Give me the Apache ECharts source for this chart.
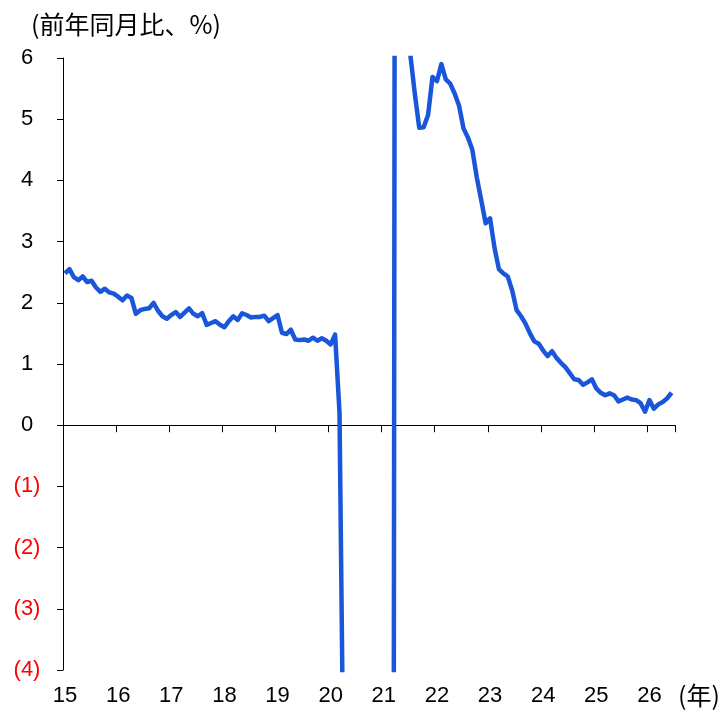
<!DOCTYPE html>
<html>
<head>
<meta charset="utf-8">
<script src="https://cdn.jsdelivr.net/npm/echarts@6/dist/echarts.min.js"></script>
<style>
    html, body {margin: 0; padding: 0; background: #fff;}
    #chart {width: 727px; height: 711px;}
</style>
</head>
<body>
<div id="chart"></div>
<script>
//月次カテゴリ(2015年1月〜)
let years = ['15', '16', '17', '18', '19', '20', '21', '22', '23', '24', '25', '26'];
let months = [];
years.forEach(function (y) {
    for (let m = 1; m <= 12; m++) {
        months.push(y + '-' + (m < 10 ? '0' + m : m));
    }
});

//前年同月比(%)
let v2015 = [2.48, 2.55, 2.42, 2.37, 2.43, 2.34, 2.36, 2.25, 2.18, 2.23, 2.17, 2.15];
let v2016 = [2.10, 2.04, 2.12, 2.08, 1.82, 1.88, 1.90, 1.91, 2.00, 1.87, 1.78, 1.74];
let v2017 = [1.80, 1.85, 1.77, 1.84, 1.91, 1.82, 1.78, 1.83, 1.64, 1.67, 1.70, 1.64];
let v2018 = [1.60, 1.70, 1.78, 1.72, 1.83, 1.80, 1.76, 1.77, 1.77, 1.79, 1.70, 1.75];
let v2019 = [1.80, 1.51, 1.49, 1.56, 1.40, 1.39, 1.40, 1.38, 1.43, 1.38, 1.42, 1.38];
let v2020 = [1.32, 1.48, 0.20, -6.5, -25, -20, -16, -14, -13, -12, -12, -13];
let v2021 = [-14, -15, -20, 40, 20, 11, 6.05, 5.42, 4.86, 4.87, 5.07, 5.69];
let v2022 = [5.62, 5.90, 5.65, 5.58, 5.42, 5.22, 4.85, 4.70, 4.50, 4.05, 3.68, 3.30];
let v2023 = [3.38, 2.90, 2.55, 2.48, 2.43, 2.20, 1.88, 1.78, 1.66, 1.50, 1.37, 1.33];
let v2024 = [1.22, 1.13, 1.21, 1.10, 1.02, 0.95, 0.85, 0.75, 0.74, 0.66, 0.70, 0.75];
let v2025 = [0.60, 0.53, 0.49, 0.52, 0.49, 0.39, 0.42, 0.45, 0.42, 0.41, 0.36, 0.22];
let v2026 = [0.41, 0.27, 0.34, 0.38, 0.44, 0.53];

let values = [].concat(v2015, v2016, v2017, v2018, v2019, v2020, v2021, v2022, v2023, v2024, v2025, v2026);
let cats = months.slice(0, values.length);

let yTicks = [-4, -3, -2, -1, 0, 1, 2, 3, 4, 5, 6];

let fontNum = 'Liberation Sans, Arial, sans-serif';
let fontJp = '"Noto Sans CJK JP", sans-serif';

let chart = echarts.init(document.getElementById('chart'), null, {renderer: 'canvas'});

let option = {
    animation: false,
    backgroundColor: '#fff',
    grid: [
        //軸用
        {left: 63, right: 52, top: 58, bottom: 41},
        //データ用
        {left: 65, right: 55.4, top: 58, bottom: 41}
    ],
    xAxis: [
        {
            gridIndex: 0,
            type: 'value',
            min: 0,
            max: 138.3,
            interval: 12,
            axisLine: {show: true, onZero: true, lineStyle: {color: '#000', width: 1}},
            axisTick: {show: true, length: 7, lineStyle: {color: '#000'}},
            axisLabel: {show: false},
            splitLine: {show: false}
        },
        {
            gridIndex: 1,
            type: 'category',
            data: cats,
            boundaryGap: false,
            axisLine: {show: false, onZero: false},
            axisTick: {show: false},
            axisLabel: {
                interval: function (i) { return i % 12 === 0; },
                formatter: function (v) { return v.split('-')[0]; },
                margin: 15,
                color: '#000',
                fontSize: 22,
                fontFamily: fontNum
            },
            splitLine: {show: false}
        }
    ],
    yAxis: [
        {
            gridIndex: 0,
            type: 'value',
            min: yTicks[0],
            max: yTicks[yTicks.length - 1],
            interval: 1,
            axisLine: {show: true, lineStyle: {color: '#000', width: 1}},
            axisTick: {show: true, length: 6, lineStyle: {color: '#000'}},
            axisLabel: {
                margin: 36,
                align: 'center',
                fontSize: 22,
                fontFamily: fontNum,
                formatter: function (v) { return v < 0 ? '(' + (-v) + ')' : String(v); },
                color: function (v) { return Number(v) < 0 ? '#ff0000' : '#000'; }
            },
            splitLine: {show: false}
        },
        {
            gridIndex: 1,
            type: 'value',
            min: yTicks[0],
            max: yTicks[yTicks.length - 1],
            show: false
        }
    ],
    graphic: [
        {
            type: 'text', left: 31, top: 12,
            style: {text: '(前年同月比、%)', fontSize: 25, fontFamily: fontJp, fill: '#000'}
        },
        {
            type: 'text', left: 678, top: 683,
            style: {text: '(年)', fontSize: 25, fontFamily: fontJp, fill: '#000'}
        }
    ],
    series: [{
        type: 'line',
        xAxisIndex: 1,
        yAxisIndex: 1,
        data: values,
        showSymbol: false,
        clip: true,
        lineStyle: {color: '#1a56d9', width: 4.5, join: 'round'},
        itemStyle: {color: '#1a56d9'}
    }]
};

chart.setOption(option);
</script>
</body>
</html>
